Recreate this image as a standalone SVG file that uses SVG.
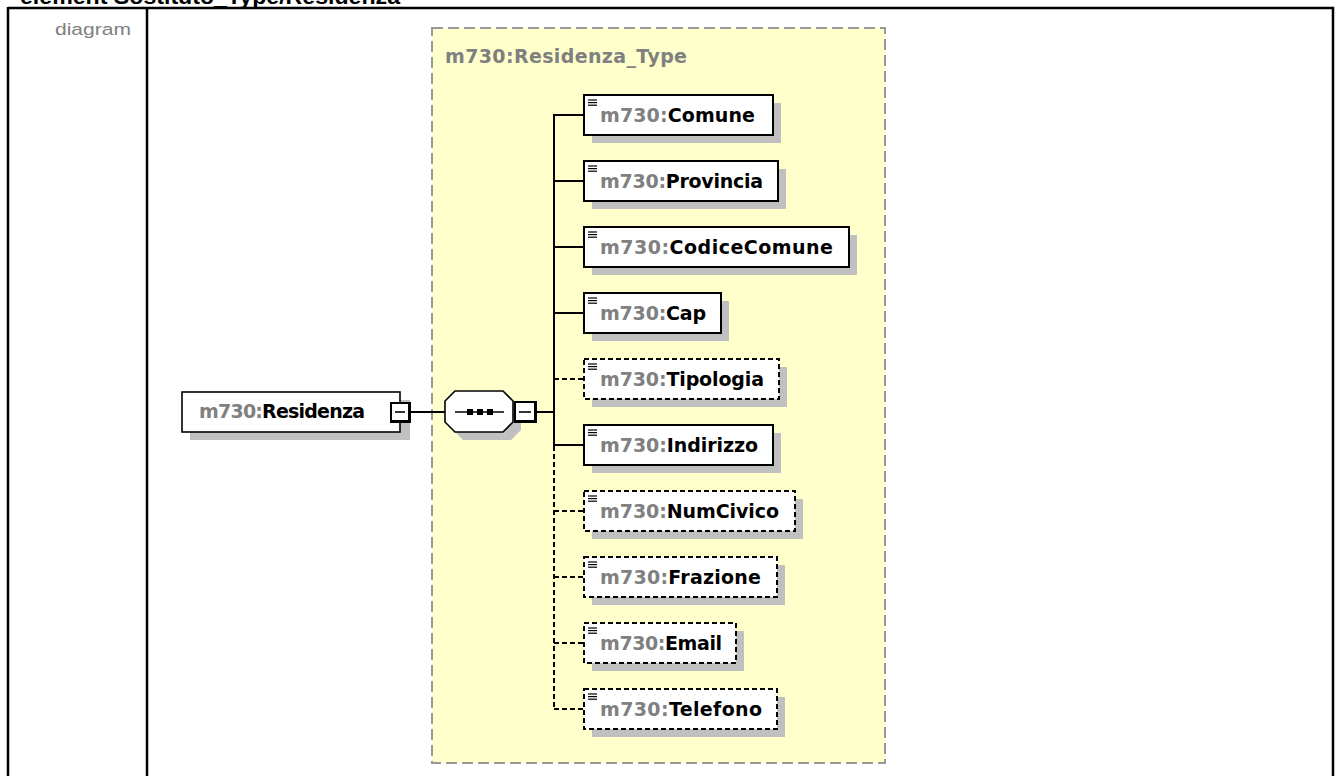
<svg xmlns="http://www.w3.org/2000/svg" width="1336" height="776" viewBox="0 0 1336 776">
<style>
.nt{font-family:"DejaVu Sans",Verdana,sans-serif;font-weight:bold;font-size:19px;fill:#000}
.px{fill:#808080}
.sh{fill:#c0c0c0}
.box{fill:#fff;stroke:#000;stroke-width:2}
.dbox{fill:#fff;stroke:#000;stroke-width:2;stroke-dasharray:5 3}
.ln{stroke:#000;stroke-width:2;fill:none}
.dln{stroke:#000;stroke-width:2;fill:none;stroke-dasharray:5 3}
.ic{stroke:#000;stroke-width:1.2}
</style>
<defs>
<g id="icon"><line class="ic" x1="588" y1="0" x2="597" y2="0"/><line class="ic" x1="588" y1="2.6" x2="597" y2="2.6"/><line class="ic" x1="588" y1="5.2" x2="597" y2="5.2"/></g>
</defs>
<rect width="1336" height="776" fill="#fff"/>
<g id="frame">
<text x="20" y="4" font-family="Liberation Sans,Arial,sans-serif" font-weight="bold" font-size="22" textLength="380" lengthAdjust="spacingAndGlyphs">element Sostituto_Type/Residenza</text>
<line x1="8" y1="8" x2="1334" y2="8" stroke="#000" stroke-width="2.5"/>
<line x1="8" y1="7" x2="8" y2="776" stroke="#000" stroke-width="2.5"/>
<line x1="147" y1="7" x2="147" y2="776" stroke="#000" stroke-width="2.5"/>
<line x1="1333" y1="7" x2="1333" y2="776" stroke="#000" stroke-width="2.5"/>
<text x="131" y="35" text-anchor="end" font-family="Liberation Sans,Arial,sans-serif" font-size="16" fill="#808080" textLength="76" lengthAdjust="spacingAndGlyphs">diagram</text>
</g>
<g id="type-box">
<rect x="432" y="28" width="453" height="735" fill="#ffffcc" stroke="#999" stroke-width="2" stroke-dasharray="11 5"/>
<text class="nt px" x="445" y="63" textLength="242" lengthAdjust="spacing">m730:Residenza_Type</text>
</g>
<g id="connectors">
<line class="ln" x1="411" y1="412" x2="445" y2="412"/>
<line class="ln" x1="537" y1="412" x2="554" y2="412"/>
<line class="ln" x1="554" y1="114" x2="554" y2="446"/>
<line class="dln" x1="554" y1="446" x2="554" y2="710"/>
<line class="ln" x1="554" y1="115" x2="584" y2="115"/>
<line class="ln" x1="554" y1="181" x2="584" y2="181"/>
<line class="ln" x1="554" y1="247" x2="584" y2="247"/>
<line class="ln" x1="554" y1="313" x2="584" y2="313"/>
<line class="dln" x1="554" y1="379" x2="584" y2="379"/>
<line class="ln" x1="554" y1="445" x2="584" y2="445"/>
<line class="dln" x1="554" y1="511" x2="584" y2="511"/>
<line class="dln" x1="554" y1="577" x2="584" y2="577"/>
<line class="dln" x1="554" y1="643" x2="584" y2="643"/>
<line class="dln" x1="554" y1="709" x2="584" y2="709"/>
</g>
<g id="node-residenza">
<rect class="sh" x="190" y="400" width="220" height="40"/>
<rect x="182" y="392" width="218" height="40" fill="#fff" stroke="#000" stroke-width="1.6"/>
<text class="nt" x="199" y="418" textLength="166" lengthAdjust="spacing"><tspan class="px">m730:</tspan>Residenza</text>
<rect x="390" y="402" width="21" height="21" fill="#000"/>
<rect x="392" y="404" width="16" height="16" fill="#fff"/>
<line x1="395" y1="412" x2="405" y2="412" stroke="#000" stroke-width="1.6"/>
</g>
<g id="node-sequence">
<polygon class="sh" points="463,399 511,399 521,409 521,430 511,440 463,440 453,430 453,409"/>
<polygon points="455,391 503,391 513,401 513,422 503,432 455,432 445,422 445,401" fill="#fff" stroke="#000" stroke-width="1.6"/>
<line x1="455" y1="412" x2="504" y2="412" stroke="#000" stroke-width="1.5"/>
<rect x="467" y="409" width="6" height="6" fill="#000"/>
<rect x="477" y="409" width="6" height="6" fill="#000"/>
<rect x="487" y="409" width="6" height="6" fill="#000"/>
<rect x="514" y="401" width="23" height="22" fill="#000"/>
<rect x="516" y="403" width="18" height="17" fill="#fff"/>
<line x1="519" y1="412" x2="531" y2="412" stroke="#000" stroke-width="1.6"/>
</g>
<g id="node-comune">
<rect class="sh" x="592" y="103" width="189" height="40"/>
<rect class="box" x="584" y="95" width="189" height="40"/>
<use href="#icon" y="100"/>
<text class="nt" x="600" y="122" textLength="155" lengthAdjust="spacing"><tspan class="px">m730:</tspan>Comune</text>
</g>
<g id="node-provincia">
<rect class="sh" x="592" y="169" width="194" height="40"/>
<rect class="box" x="584" y="161" width="194" height="40"/>
<use href="#icon" y="166"/>
<text class="nt" x="600" y="188" textLength="163" lengthAdjust="spacing"><tspan class="px">m730:</tspan>Provincia</text>
</g>
<g id="node-codicecomune">
<rect class="sh" x="592" y="235" width="265" height="40"/>
<rect class="box" x="584" y="227" width="265" height="40"/>
<use href="#icon" y="232"/>
<text class="nt" x="600" y="254" textLength="233" lengthAdjust="spacing"><tspan class="px">m730:</tspan>CodiceComune</text>
</g>
<g id="node-cap">
<rect class="sh" x="592" y="301" width="137" height="40"/>
<rect class="box" x="584" y="293" width="137" height="40"/>
<use href="#icon" y="298"/>
<text class="nt" x="600" y="320" textLength="106" lengthAdjust="spacing"><tspan class="px">m730:</tspan>Cap</text>
</g>
<g id="node-tipologia">
<rect class="sh" x="592" y="367" width="195" height="40"/>
<rect class="dbox" x="584" y="359" width="195" height="40"/>
<use href="#icon" y="364"/>
<text class="nt" x="600" y="386" textLength="164" lengthAdjust="spacing"><tspan class="px">m730:</tspan>Tipologia</text>
</g>
<g id="node-indirizzo">
<rect class="sh" x="592" y="433" width="189" height="40"/>
<rect class="box" x="584" y="425" width="189" height="40"/>
<use href="#icon" y="430"/>
<text class="nt" x="600" y="452" textLength="158" lengthAdjust="spacing"><tspan class="px">m730:</tspan>Indirizzo</text>
</g>
<g id="node-numcivico">
<rect class="sh" x="592" y="499" width="211" height="40"/>
<rect class="dbox" x="584" y="491" width="211" height="40"/>
<use href="#icon" y="496"/>
<text class="nt" x="600" y="518" textLength="179" lengthAdjust="spacing"><tspan class="px">m730:</tspan>NumCivico</text>
</g>
<g id="node-frazione">
<rect class="sh" x="592" y="565" width="193" height="40"/>
<rect class="dbox" x="584" y="557" width="193" height="40"/>
<use href="#icon" y="562"/>
<text class="nt" x="600" y="584" textLength="161" lengthAdjust="spacing"><tspan class="px">m730:</tspan>Frazione</text>
</g>
<g id="node-email">
<rect class="sh" x="592" y="631" width="152" height="40"/>
<rect class="dbox" x="584" y="623" width="152" height="40"/>
<use href="#icon" y="628"/>
<text class="nt" x="600" y="650" textLength="122" lengthAdjust="spacing"><tspan class="px">m730:</tspan>Email</text>
</g>
<g id="node-telefono">
<rect class="sh" x="592" y="697" width="193" height="40"/>
<rect class="dbox" x="584" y="689" width="193" height="40"/>
<use href="#icon" y="694"/>
<text class="nt" x="600" y="716" textLength="162" lengthAdjust="spacing"><tspan class="px">m730:</tspan>Telefono</text>
</g>
</svg>
